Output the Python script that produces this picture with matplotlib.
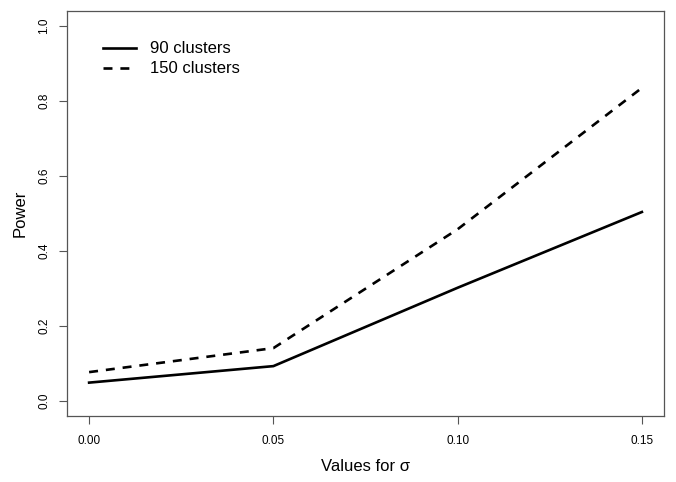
import numpy as np
import matplotlib
matplotlib.use("Agg")
import matplotlib.pyplot as plt

plt.rcParams['font.family'] = ['Liberation Sans', 'DejaVu Sans']

# --- data ---
sigma = [0.00, 0.05, 0.10, 0.15]
power_90 = [0.049, 0.093, 0.302, 0.504]
power_150 = [0.077, 0.141, 0.458, 0.835]
labels = ["90 clusters", "150 clusters"]
x_ticks = [0.00, 0.05, 0.10, 0.15]
x_ticklabels = ["0.00", "0.05", "0.10", "0.15"]
y_ticks = [0.0, 0.2, 0.4, 0.6, 0.8, 1.0]
y_ticklabels = ["0.0", "0.2", "0.4", "0.6", "0.8", "1.0"]

fig = plt.figure(figsize=(6.76, 4.82), dpi=100)
ax = fig.add_axes([67 / 676, 66 / 482, 597 / 676, 405 / 482])

ax.plot(sigma, power_90, color='black', lw=1.9, linestyle='-', label=labels[0])
ax.plot(sigma, power_150, color='black', lw=1.9, linestyle=(0, (3.4, 3.0)), label=labels[1])

# R-style axis extents (4% padding)
ax.set_xlim(-0.006, 0.156)
ax.set_ylim(-0.04, 1.04)

ax.set_xticks(x_ticks)
ax.set_xticklabels(x_ticklabels)
ax.set_yticks(y_ticks)
ax.set_yticklabels(y_ticklabels, rotation=90, va='center')
ax.tick_params(axis='both', length=6, width=0.8, color='#555555', labelsize=8.5, pad=6)
ax.tick_params(axis='x', pad=8)
for sp in ax.spines.values():
    sp.set_color('#555555')
    sp.set_linewidth(0.9)

ax.set_xlabel("Values for σ", fontsize=12, labelpad=8)
ax.set_ylabel("Power", fontsize=12, labelpad=8)

ax.legend(loc='upper left', bbox_to_anchor=(0.035, 0.962), frameon=False,
          fontsize=12, handlelength=2.0, handletextpad=0.85, labelspacing=0.3)

fig.savefig("out.png", dpi=100)
